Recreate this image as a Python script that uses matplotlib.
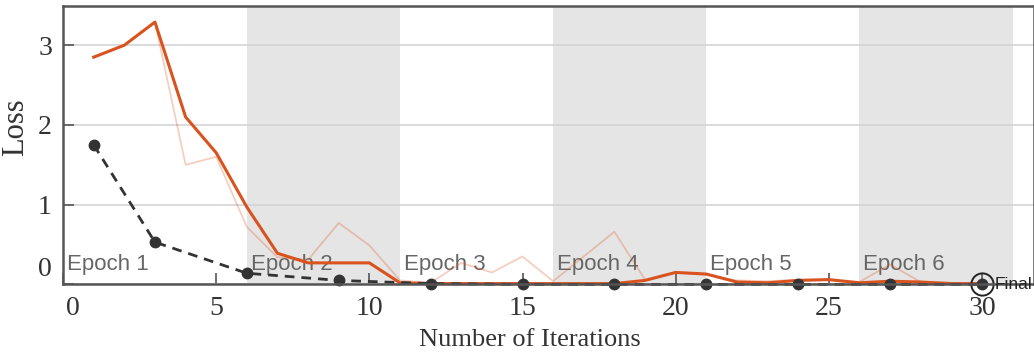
import numpy as np
import matplotlib
matplotlib.use('Agg')
import matplotlib.pyplot as plt
import matplotlib.transforms as mtransforms

# training / validation loss per iteration
iters = np.arange(1, 31)
train_raw = [2.85, 3.00, 3.29, 1.50, 1.60, 0.72, 0.34, 0.31, 0.77, 0.49,
             0.05, 0.02, 0.27, 0.15, 0.35, 0.04, 0.35, 0.66, 0.06, 0.15,
             0.12, 0.05, 0.04, 0.06, 0.06, 0.03, 0.25, 0.03, 0.02, 0.01]
train_smooth = [2.85, 3.00, 3.29, 2.10, 1.65, 0.97, 0.39, 0.27, 0.27, 0.27,
                0.02, 0.01, 0.01, 0.01, 0.01, 0.01, 0.01, 0.01, 0.05, 0.15,
                0.13, 0.03, 0.02, 0.05, 0.06, 0.02, 0.04, 0.03, 0.01, 0.01]
val_iters = [1, 3, 6, 9, 12, 15, 18, 21, 24, 27, 30]
val_loss = [1.75, 0.53, 0.14, 0.05, 0.01, 0.0, 0.0, 0.0, 0.0, 0.0, 0.0]

epoch_edges = [0, 6, 11, 16, 21, 26, 31]
epoch_names = ['Epoch 1', 'Epoch 2', 'Epoch 3', 'Epoch 4', 'Epoch 5', 'Epoch 6']

orange = '#d9531e'
dark = '#333333'
serif = 'Liberation Serif'
sans = 'Liberation Sans'

fig = plt.figure(figsize=(10.34, 3.6), dpi=100)
ax = fig.add_axes([0.061, 0.21, 0.939, 0.773])

# shaded bands for every second epoch
for k in range(len(epoch_names)):
    if k % 2 == 1:
        ax.axvspan(epoch_edges[k], epoch_edges[k + 1], color='#e5e5e5', lw=0, zorder=1)
    ax.text(epoch_edges[k] + 0.12, 0.18, epoch_names[k], fontsize=16,
            family=sans, color='#666666', va='baseline', zorder=1.8)

ax.plot(iters, train_raw, color=orange, lw=1.3, alpha=0.28, zorder=2, clip_on=False)
ax.plot(iters, train_smooth, color=orange, lw=2.2, zorder=2.1, clip_on=False)
ax.plot(val_iters, val_loss, color=dark, lw=2.0, dashes=(3.5, 2.5),
        marker='o', markersize=7.5, markerfacecolor=dark, markeredgecolor=dark,
        zorder=2.2, clip_on=False)

# final validation point
ax.plot(val_iters[-1], val_loss[-1], marker='o', markersize=16,
        markerfacecolor='none', markeredgecolor='#222222', mew=1.4,
        zorder=2.3, clip_on=False)
ax.text(val_iters[-1] + 0.42, val_loss[-1], 'Final', fontsize=12.5, family=sans,
        color='#222222', va='center', ha='left', clip_on=False)

ax.set_xlim(0, 31.7)
ax.set_ylim(0, 3.49)
ax.set_xticks([0, 5, 10, 15, 20, 25, 30])
ax.set_yticks([0, 1, 2, 3])
ax.grid(axis='y', color='#d4d4d4', lw=1.2)
ax.tick_params(direction='in', length=8, width=1.2, color='#555555',
               labelsize=20, labelcolor='#333333', pad=8)
for lab in ax.get_xticklabels() + ax.get_yticklabels():
    lab.set_family(serif)

# nudge the corner labels away from each other
dx = mtransforms.ScaledTranslation(10 / 100, 0, fig.dpi_scale_trans)
dy = mtransforms.ScaledTranslation(0, 18 / 100, fig.dpi_scale_trans)
ax.get_xticklabels()[0].set_transform(ax.get_xticklabels()[0].get_transform() + dx)
ax.get_yticklabels()[0].set_transform(ax.get_yticklabels()[0].get_transform() + dy)

for side in ['left', 'top', 'bottom', 'right']:
    ax.spines[side].set_color('#555555')
    ax.spines[side].set_linewidth(1.8)

ax.set_xlabel('Number of Iterations', fontsize=19, family=serif, color='#333333')
ax.set_ylabel('Loss', fontsize=22, family=serif, color='#333333')
ax.xaxis.set_label_coords(0.481, -0.16)
ax.yaxis.set_label_coords(-0.034, 0.565)

fig.savefig('out.png', dpi=100)
